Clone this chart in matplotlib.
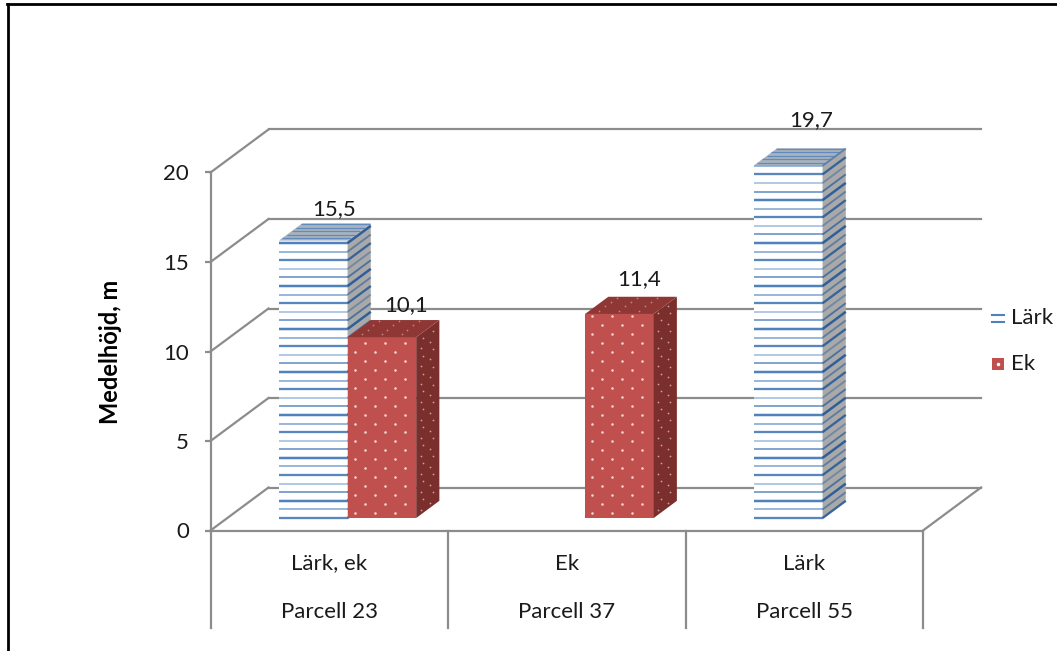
import matplotlib
matplotlib.use('Agg')
import matplotlib.pyplot as plt
import numpy as np
from matplotlib.patches import Polygon

plt.rcParams['font.family'] = ['Lato', 'DejaVu Sans']

# data
groups = ['Parcell 23', 'Parcell 37', 'Parcell 55']
species = ['Lärk, ek', 'Ek', 'Lärk']
lark = [15.5, None, 19.7]
ek = [10.1, 11.4, None]
lark_labels = ['15,5', None, '19,7']
ek_labels = ['10,1', '11,4', None]
y_ticks = [0, 5, 10, 15, 20]
legend_names = ['Lärk', 'Ek']

W, H = 1057, 651
GRAY = '#8C8C8C'
BLUE = '#4F81BD'
RED = '#C0504D'
TXT = '#1a1a1a'
FS = 16

fig = plt.figure(figsize=(W / 100, H / 100), dpi=100)
fig.patch.set_facecolor('white')

# front plane of the fake 3d box: x = category units, y = metres
ax = fig.add_axes([210.5 / W, 1 - 530.5 / H, 712.5 / W, 358 / H])
ax.set_xlim(0, 3)
ax.set_ylim(0, 20)
ax.patch.set_visible(False)

# how far the back wall is shifted from the front plane
DX = 58 / (712.5 / 3)
DY = 43 / (358 / 20)
BAR_W = 68.6 / (712.5 / 3)
GAP = 0.2175
D0 = 0.29    # front face of bars, as a fraction of the depth
D1 = 0.69    # back face of bars
STRIPE = 0.48
stripe_look = [(0.95, 2.2), (0.6, 1.8), (1.0, 2.4), (0.75, 1.8), (0.45, 1.8)]


def proj(x, y, d):
    return x + d * DX, y + d * DY


def wall():
    for v in y_ticks:
        x0, y0 = proj(0, v, 1)
        ax.plot([0, x0], [v, y0], color=GRAY, lw=1.6, clip_on=False, zorder=1)
        x1, _ = proj(3, v, 1)
        ax.plot([x0, x1], [y0, y0], color=GRAY, lw=1.6, clip_on=False, zorder=1)
    x1, y1 = proj(3, 0, 1)
    ax.plot([3, x1], [0, y1], color=GRAY, lw=1.6, clip_on=False, zorder=1)


def poly(pts, color, z):
    ax.add_patch(Polygon(pts, closed=True, facecolor=color, edgecolor='none',
                         clip_on=False, zorder=z))


def faces(left, v, front, side, top, z):
    right = left + BAR_W
    poly([proj(left, 0, D0), proj(right, 0, D0), proj(right, v, D0), proj(left, v, D0)], front, z)
    poly([proj(right, 0, D0), proj(right, 0, D1), proj(right, v, D1), proj(right, v, D0)], side, z)
    poly([proj(left, v, D0), proj(right, v, D0), proj(right, v, D1), proj(left, v, D1)], top, z)


def striped_bar(left, v, z):
    right = left + BAR_W
    faces(left, v, 'white', '#A9A9A9', '#A9B2BD', z)
    levels = np.arange(0, v, STRIPE)
    for n, lev in enumerate(levels):
        alpha, lw = stripe_look[n % len(stripe_look)]
        a = proj(left, lev, D0)
        b = proj(right, lev, D0)
        c = proj(right, lev, D1)
        ax.plot([a[0], b[0]], [a[1], b[1]], color=BLUE, alpha=alpha, lw=lw * 0.75,
                clip_on=False, zorder=z + 0.1, solid_capstyle='butt')
        ax.plot([b[0], c[0]], [b[1], c[1]], color='#2F5F9A', alpha=alpha, lw=lw * 0.75,
                clip_on=False, zorder=z + 0.1, solid_capstyle='butt')
    for d in np.linspace(D0 + 0.06, D1 - 0.02, 5):
        a = proj(left, v, d)
        b = proj(right, v, d)
        ax.plot([a[0], b[0]], [a[1], b[1]], color=BLUE, lw=0.9, alpha=0.8,
                clip_on=False, zorder=z + 0.1, solid_capstyle='butt')


def dotted_bar(left, v, z):
    right = left + BAR_W
    faces(left, v, RED, '#7A2F2D', '#8E3735', z)
    xs, ys = [], []
    sx, sy = [], []
    for n, lev in enumerate(np.arange(0.28, v - 0.1, 0.5)):
        shift = 0.042 if n % 2 else 0
        for x in np.arange(left + 0.03 + shift, right - 0.01, 0.084):
            px, py = proj(x, lev, D0)
            xs.append(px)
            ys.append(py)
        for d in np.arange(D0 + 0.08 + shift, D1, 0.16):
            px, py = proj(right, lev, d)
            sx.append(px)
            sy.append(py)
    ax.scatter(xs, ys, s=3.5, color='white', linewidths=0, clip_on=False, zorder=z + 0.1, alpha=0.75)
    ax.scatter(sx, sy, s=1.6, color='#C9A09E', linewidths=0, clip_on=False, zorder=z + 0.1)
    tx, ty = [], []
    for d in np.arange(D0 + 0.08, D1, 0.1):
        for x in np.arange(left + 0.04, right, 0.084):
            px, py = proj(x, v, d)
            tx.append(px)
            ty.append(py)
    ax.scatter(tx, ty, s=1.6, color='#BE8583', linewidths=0, clip_on=False, zorder=z + 0.1)


wall()

label_nudge = {'15,5': (21, 31), '10,1': (24, 32), '11,4': (20, 35), '19,7': (23, 45)}

for i in range(3):
    lark_x = i + GAP
    ek_x = i + GAP + BAR_W
    if lark[i] is not None:
        striped_bar(lark_x, lark[i], 3 + i)
        px, py = proj(lark_x + BAR_W / 2, lark[i], D0)
        nx, ny = label_nudge[lark_labels[i]]
        ax.annotate(lark_labels[i], (px, py), xytext=(nx * 0.72, ny * 0.72),
                    textcoords='offset points', ha='center', va='center',
                    fontsize=FS, color=TXT, zorder=20, annotation_clip=False)
    if ek[i] is not None:
        dotted_bar(ek_x, ek[i], 3.5 + i)
        px, py = proj(ek_x + BAR_W / 2, ek[i], D0)
        nx, ny = label_nudge[ek_labels[i]]
        ax.annotate(ek_labels[i], (px, py), xytext=(nx * 0.72, ny * 0.72),
                    textcoords='offset points', ha='center', va='center',
                    fontsize=FS, color=TXT, zorder=20, annotation_clip=False)

# axes
for s in ['top', 'right']:
    ax.spines[s].set_visible(False)
for s in ['left', 'bottom']:
    ax.spines[s].set_color(GRAY)
    ax.spines[s].set_linewidth(1.6)
    ax.spines[s].set_zorder(10)
ax.set_yticks(y_ticks)
ax.tick_params(axis='y', length=4.5, width=1.6, color=GRAY, pad=11, labelsize=FS, labelcolor=TXT)
ax.set_xticks([])

trans = ax.get_xaxis_transform()
for i in range(4):
    ax.plot([i, i], [0, -97 / 358], transform=trans, color=GRAY, lw=1.6, clip_on=False, zorder=2)
for i in range(3):
    ax.text(i + 0.5, -33 / 358, species[i], transform=trans, ha='center', va='center',
            fontsize=FS, color=TXT)
    ax.text(i + 0.5, -81 / 358, groups[i], transform=trans, ha='center', va='center',
            fontsize=FS, color=TXT)

fig.text(111 / W, 1 - 352 / H, 'Medelhöjd, m', rotation=90, ha='center', va='center',
         fontsize=17, fontweight='bold', color='black')

# legend
for y in (315, 322):
    fig.add_artist(plt.Line2D([992 / W, 1004 / W], [1 - y / H] * 2, color=BLUE, lw=1.5))
fig.add_artist(plt.Rectangle((992 / W, 1 - 370 / H), 12 / W, 12 / H, transform=fig.transFigure,
                             facecolor=RED, edgecolor='none'))
fig.add_artist(plt.Line2D([998 / W], [1 - 364 / H], marker='o', ms=1.5, color='white', lw=0))
fig.text(1011 / W, 1 - 318 / H, legend_names[0], ha='left', va='center', fontsize=FS, color=TXT)
fig.text(1011 / W, 1 - 364 / H, legend_names[1], ha='left', va='center', fontsize=FS, color=TXT)

# outer frame
fig.add_artist(plt.Line2D([7.5 / W, 7.5 / W], [0, 1 - 4 / H], color='black', lw=2))
fig.add_artist(plt.Line2D([6.5 / W, 1], [1 - 4 / H, 1 - 4 / H], color='black', lw=2))

fig.savefig('out.png', dpi=100)
